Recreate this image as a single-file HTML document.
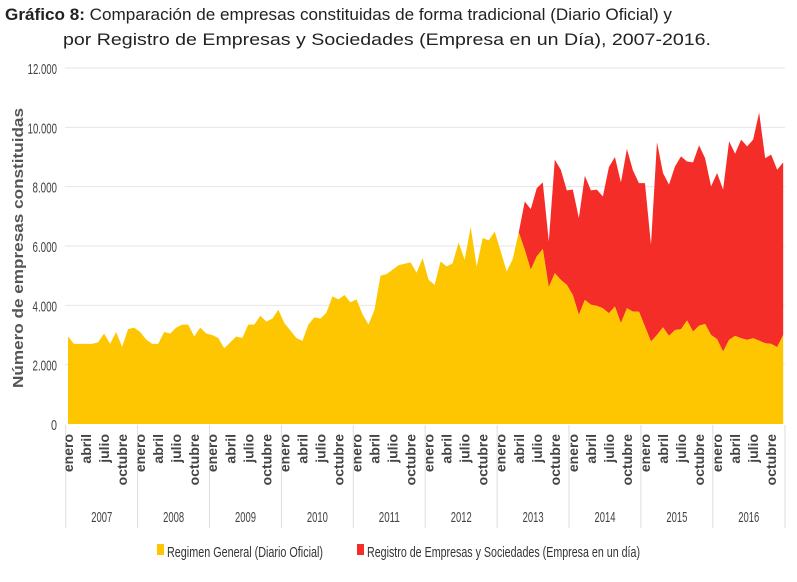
<!DOCTYPE html>
<html><head><meta charset="utf-8"><style>
body{margin:0;background:#fff;width:797px;height:577px;overflow:hidden;font-family:"Liberation Sans",sans-serif}
</style></head><body>
<svg id="s" width="797" height="577" xmlns="http://www.w3.org/2000/svg">
<text x="5" y="20" font-size="17" fill="#222" textLength="667" lengthAdjust="spacingAndGlyphs"><tspan font-weight="bold">Gráfico 8:</tspan> Comparación de empresas constituidas de forma tradicional (Diario Oficial) y</text>
<text x="63" y="45" font-size="17" fill="#222" textLength="648" lengthAdjust="spacingAndGlyphs">por Registro de Empresas y Sociedades (Empresa en un Día), 2007-2016.</text>
<text transform="translate(23,248) rotate(-90)" text-anchor="middle" font-size="15" font-weight="bold" fill="#555" textLength="280" lengthAdjust="spacingAndGlyphs">Número de empresas constituidas</text>
<g id="g"></g>
<g font-size="15" fill="#333">
<rect x="157" y="544" width="7" height="11" fill="#fdc600"/>
<text x="167" y="557" textLength="156" lengthAdjust="spacingAndGlyphs">Regimen General (Diario Oficial)</text>
<rect x="357" y="544" width="7" height="11" fill="#f52d28"/>
<text x="367" y="557" textLength="273" lengthAdjust="spacingAndGlyphs">Registro de Empresas y Sociedades (Empresa en un día)</text>
</g>
</svg>
<script>
var Y=[2950,2700,2700,2700,2700,2750,3050,2700,3100,2600,3200,3250,
3100,2850,2700,2700,3100,3050,3250,3350,3350,2950,3250,3050,
3000,2900,2550,2750,2950,2900,3350,3350,3650,3450,3550,3850,
3400,3150,2900,2800,3350,3600,3550,3750,4300,4200,4350,4100,
4200,3700,3350,3850,5000,5050,5200,5350,5400,5450,5100,5590,
4860,4690,5480,5310,5420,6120,5535,6640,5310,6270,6190,6490,
5820,5140,5560,6460,5870,5200,5650,5900,4610,5085,4860,4690,
4350,3680,4185,4020,3980,3900,3735,3960,3400,3900,3790,3790,
3285,2780,3000,3260,2970,3170,3195,3490,3115,3310,3375,3000,
2860,2440,2835,2970,2890,2835,2890,2810,2720,2700,2590,3000];
var T={75:6460,76:7500,77:7245,78:7950,79:8145,80:6150,81:8910,82:8570,83:7875,84:7900,85:6940,86:8370,87:7875,88:7900,89:7670,90:8660,91:9000,92:8145,93:9270,94:8550,95:8120,96:8120,97:6040,98:9500,99:8460,100:8070,101:8685,102:9020,103:8850,104:8820,105:9390,106:8960,107:8010,108:8460,109:7900,110:9530,111:9110,112:9585,113:9360,114:9585,115:10500,116:8960,117:9080,118:8570,119:8820};
function X(i){return 68+i*6.01}
function V(v){return 424-v*356/12000}
var h='';
for(var k=0;k<=6;k++){var y=V(k*2000);
 if(k>0)h+='<line x1="65" x2="785" y1="'+y+'" y2="'+y+'" stroke="#e6e6e6" stroke-width="1"/>';
 var s=(k==0?'0':(k*2)+'.000');
 h+='<text x="57" y="'+(y+6)+'" text-anchor="end" font-size="15" fill="#444"'+(k==0?' textLength="6" lengthAdjust="spacingAndGlyphs"':' textLength="'+(s.length*4.9)+'" lengthAdjust="spacingAndGlyphs"')+'>'+s+'</text>';}
var r='M'+X(75)+','+V(T[75]);
for(var i=76;i<120;i++)r+=' L'+X(i)+','+V(T[i]);
for(i=119;i>=75;i--)r+=' L'+X(i)+','+V(Y[i]);
h+='<path d="'+r+'Z" fill="#f52d28"/>';
var p='M'+X(0)+',424';
for(i=0;i<120;i++)p+=' L'+X(i)+','+V(Y[i]);
p+=' L'+X(119)+',424Z';
h+='<path d="'+p+'" fill="#fdc600"/>';
var m=['enero','abril','julio','octubre'];
for(var yr=0;yr<10;yr++){
 var bx=65.7+yr*71.9;
 h+='<line x1="'+bx+'" x2="'+bx+'" y1="425" y2="528" stroke="#ddd"/>';
 for(var q=0;q<4;q++){var x=X(yr*12+q*3)+5;
  h+='<text transform="translate('+x+',434) rotate(-90)" text-anchor="end" font-size="14" font-weight="bold" fill="#444">'+m[q]+'</text>';}
 h+='<text x="'+(bx+36)+'" y="522" text-anchor="middle" font-size="15" fill="#444" textLength="21" lengthAdjust="spacingAndGlyphs">'+(2007+yr)+'</text>';
}
h+='<line x1="785" x2="785" y1="425" y2="528" stroke="#ddd"/>';
document.getElementById('g').innerHTML=h;
</script>
</body></html>
